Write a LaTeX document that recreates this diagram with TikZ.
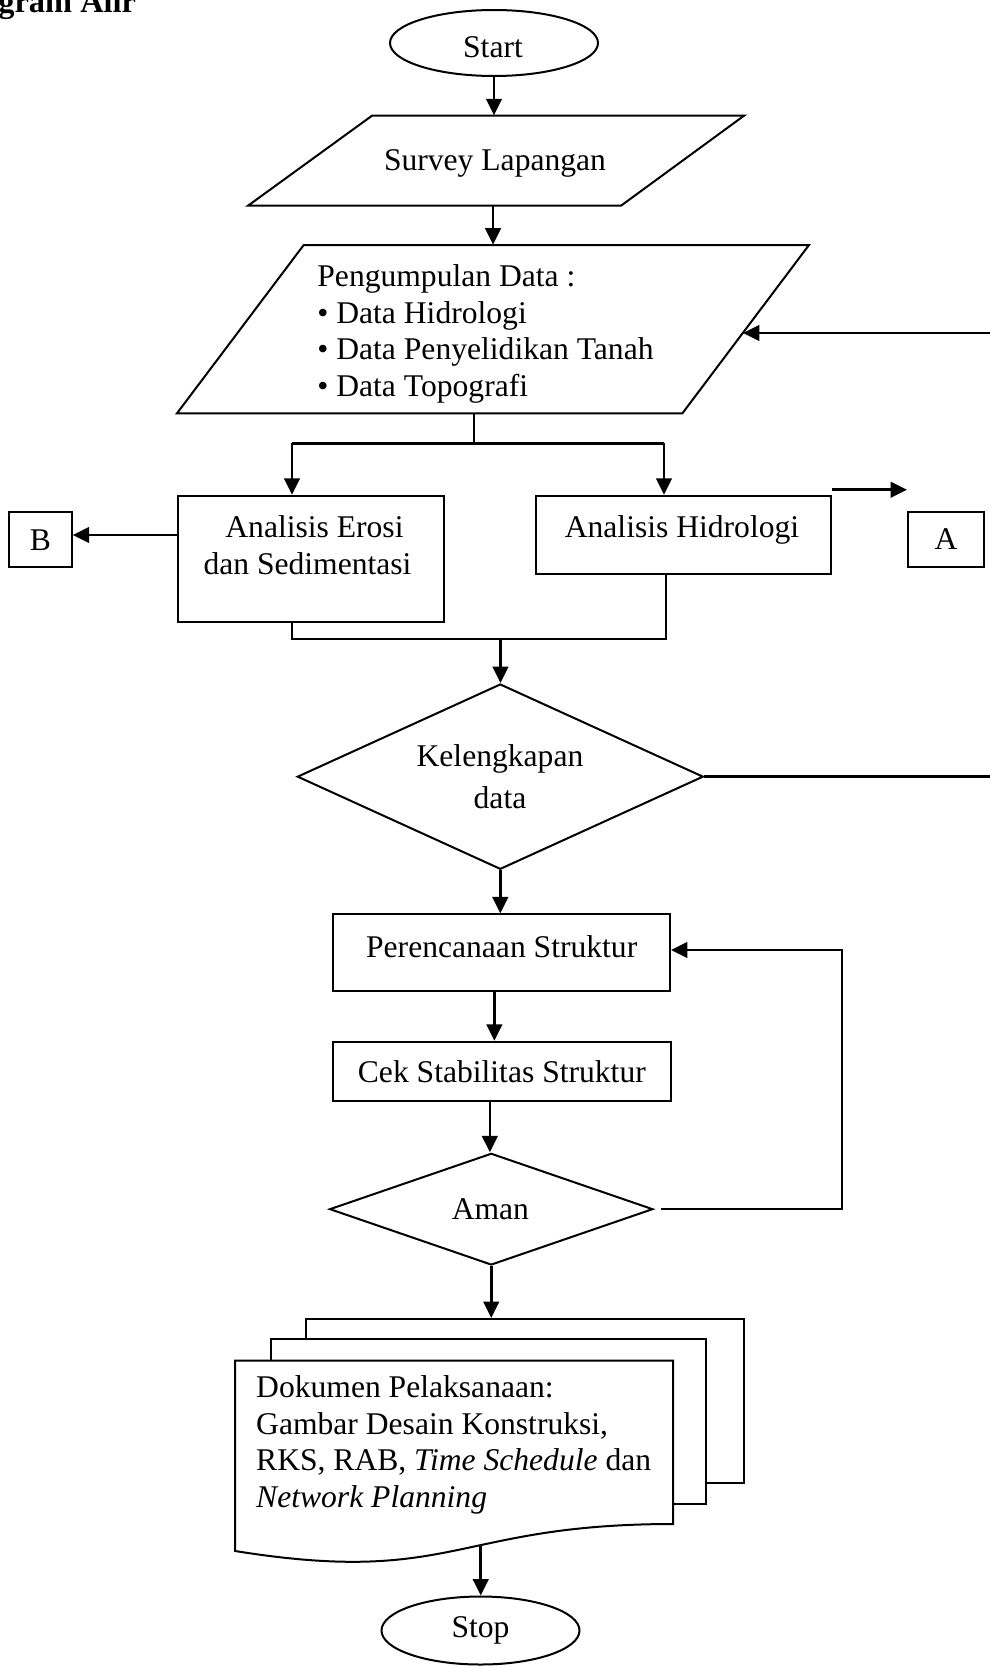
\documentclass[tikz,border=0pt]{standalone}
\usepackage{fontspec}
\setmainfont{Liberation Serif}
\usetikzlibrary{shapes.geometric,arrows.meta,calc}
\begin{document}
\begin{tikzpicture}[x=0.5pt,y=-0.5pt,
  font=\fontsize{15.8pt}{18.35pt}\selectfont,
  shp/.style={draw, line width=1pt, fill=white, inner sep=0pt},
  con/.style={line width=1.25pt},
  arr/.style={con, -{Triangle[length=8.2pt,width=7.8pt]}},
  txt/.style={inner sep=0pt},
  anch/.style={inner sep=0pt, minimum width=1pt}]
\useasboundingbox (0,0) rectangle (990,1666);

% title
\node[anchor=base west, inner sep=0pt, font=\fontsize{16.2pt}{18pt}\selectfont\bfseries] (title) at (-2,12) {gram Alir};

% start
\node[shp, ellipse, minimum width=104pt, minimum height=33pt] (start) at (494,43) {};
\node[txt] (startT) at (493,46.7) {Start};

% survey
\draw[shp] (372,115.7) -- (744,115.7) -- (621,205.7) -- (248,205.7) -- cycle;
\node[anch, minimum height=45pt] (survey) at (493,160.7) {};
\node[txt] (surveyT) at (495,163.3) {Survey Lapangan};
\draw[arr] (start.south) -- (start.south |- survey.north);

% pengumpulan data
\draw[shp] (303.7,245) -- (809,245) -- (682.4,413.3) -- (177,413.3) -- cycle;
\node[anch, minimum height=84.15pt] (peng) at (492,329.15) {};
\node[txt, anchor=west, align=left] (pengT) at (317,334) {Pengumpulan Data :\\• Data Hidrologi\\• Data Penyelidikan Tanah\\• Data Topografi};
\draw[arr] (survey.south) -- (survey.south |- peng.north);
\coordinate (fbTop) at (990,333);
\coordinate (pengR) at (743,333);
\draw[arr] (fbTop) -- (pengR);

% analysis boxes
\node[shp, minimum width=132.8pt, minimum height=63.3pt] (erosi) at (310.8,559) {};
\node[txt, align=center] (erosiT) at (307.5,545) {\hspace*{7pt}Analisis Erosi\\dan Sedimentasi};
\node[shp, minimum width=147.65pt, minimum height=39.3pt] (hidro) at (683.35,535) {};
\node[txt] (hidroT) at (682,529.5) {Analisis Hidrologi};
\node[shp, minimum width=31.2pt, minimum height=27.5pt] (B) at (40.5,539.8) {B};
\node[shp, minimum width=38pt, minimum height=27.5pt] (A) at (946,539.5) {A};

% branch
\coordinate (br0) at (474,443.3);
\coordinate (brL) at (292,443.3);
\coordinate (brR) at (664,443.3);
\draw[con] (br0 |- peng.south) -- (br0);
\draw[con] (brL) -- (brR);
\draw[arr] (brL) -- (brL |- erosi.north);
\draw[arr] (brR) -- (brR |- hidro.north);

\coordinate (eB) at ($(erosi.west)+(0,-24)$);
\draw[arr] (eB) -- (eB -| B.east);
\coordinate (hA) at ($(hidro.north east)+(0,-5)$);
\draw[arr] (hA) -- (hA -| A.west);

% join
\coordinate (jL) at (292,639);
\coordinate (jR) at (666,639);
\coordinate (jM) at (500.5,639);
\draw[con] (jL |- erosi.south) -- (jL) -- (jR) -- (jR |- hidro.south);

% kelengkapan
\node[shp, diamond, minimum width=203pt, minimum height=92.65pt] (kel) at (500.3,776.65) {};
\node[txt, align=center] (kelT) at (500,776.5) {Kelengkapan\\[2.8pt]data};
\draw[arr] (jM) -- (jM |- kel.north);
\coordinate (kelR) at (990,776.65);
\draw[con] (kel.east) -- (kelR);

% perencanaan
\node[shp, minimum width=168.65pt, minimum height=38.35pt] (per) at (501.35,952.65) {};
\node[txt] (perT) at (501.7,946.7) {Perencanaan Struktur};
\draw[arr] (kel.south) -- (kel.south |- per.north);

% cek
\node[shp, minimum width=169.15pt, minimum height=29.65pt] (cek) at (501.85,1071.35) {Cek Stabilitas Struktur};
\draw[arr] ([xshift=-3.5pt]per.south) -- ([xshift=-3.5pt]per.south |- cek.north);

% aman
\node[shp, diamond, minimum width=161.65pt, minimum height=55.85pt] (aman) at (491.25,1209.15) {};
\node[txt] (amanT) at (490.4,1209) {Aman};
\draw[arr] ([xshift=-6pt]cek.south) -- ([xshift=-6pt]cek.south |- aman.north);
\coordinate (fb1) at (842,1209.15);
\coordinate (fb2) at (842,950);
\draw[arr] ([xshift=3.5pt]aman.east) -- (fb1) -- (fb2) -- (fb2 -| per.east);

% documents
\node[shp, minimum width=219pt, minimum height=81.85pt] (doc3) at (524.8,1400.85) {};
\node[shp, minimum width=217.45pt, minimum height=82.35pt] (doc2) at (488.75,1421.65) {};
\draw[shp] (235.2,1360.7) -- (673.2,1360.7) -- (673.2,1524)
  .. controls (454.2,1524) and (454.2,1586.2) .. (235.2,1551) coordinate[pos=0.42] (docW) -- cycle;
\node[txt, anchor=west, align=left] (docT) at (255.8,1445) {Dokumen Pelaksanaan:\\Gambar Desain Konstruksi,\\RKS, RAB, \textit{Time Schedule} dan\\\textit{Network Planning}};
\draw[arr] (aman.south) -- (aman.south |- doc3.north);

% stop
\node[shp, ellipse, minimum width=99pt, minimum height=34pt] (stop) at (480.5,1630.5) {Stop};
\draw[arr] (docW) -- (docW |- stop.north);
\end{tikzpicture}
\end{document}
